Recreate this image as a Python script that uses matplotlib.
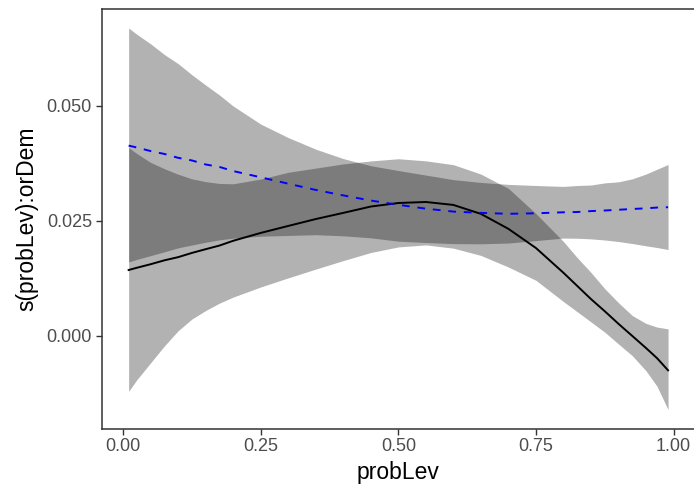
import numpy as np
import matplotlib
matplotlib.use("Agg")
import matplotlib.pyplot as plt

plt.rcParams["font.family"] = ["Liberation Sans", "DejaVu Sans"]

# probLev grid the smooths were read at (denser where the bands bend)
prob_lev = [0.01, 0.025, 0.05, 0.075, 0.10, 0.125, 0.15, 0.175, 0.20, 0.25,
            0.30, 0.35, 0.40, 0.45, 0.50, 0.55, 0.60, 0.65, 0.70, 0.75,
            0.80, 0.825, 0.85, 0.875, 0.90, 0.925, 0.95, 0.97, 0.99]

# solid black smooth and its band
fit_solid = [0.01431, 0.01480, 0.01557, 0.01642, 0.01711, 0.01803, 0.01884,
             0.01963, 0.02067, 0.02238, 0.02390, 0.02540, 0.02674, 0.02812,
             0.02889, 0.02911, 0.02847, 0.02652, 0.02326, 0.01909, 0.01370,
             0.01084, 0.00798, 0.00534, 0.00259, -0.00004, -0.00268, -0.00488,
             -0.00752]
upper_solid = [0.04094, 0.03964, 0.03771, 0.03635, 0.03514, 0.03415, 0.03353,
               0.03314, 0.03307, 0.03410, 0.03558, 0.03648, 0.03740, 0.03804,
               0.03852, 0.03806, 0.03723, 0.03518, 0.03206, 0.02658, 0.02050,
               0.01700, 0.01377, 0.01025, 0.00718, 0.00440, 0.00268, 0.00189,
               0.00150]
lower_solid = [-0.01209, -0.00955, -0.00587, -0.00220, 0.00110, 0.00365, 0.00550,
               0.00710, 0.00842, 0.01062, 0.01260, 0.01451, 0.01636, 0.01812,
               0.01933, 0.01977, 0.01906, 0.01748, 0.01495, 0.01207, 0.00743,
               0.00523, 0.00301, 0.00079, -0.00180, -0.00433, -0.00763, -0.01099,
               -0.01607]

# dashed blue smooth and its band
fit_dashed = [0.04138, 0.04096, 0.04019, 0.03956, 0.03872, 0.03815, 0.03727,
              0.03674, 0.03584, 0.03448, 0.03309, 0.03173, 0.03054, 0.02942,
              0.02850, 0.02766, 0.02702, 0.02674, 0.02654, 0.02665, 0.02687,
              0.02693, 0.02713, 0.02726, 0.02742, 0.02759, 0.02773, 0.02790,
              0.02797]
upper_dashed = [0.06697, 0.06559, 0.06352, 0.06119, 0.05921, 0.05679, 0.05455,
                0.05239, 0.04998, 0.04606, 0.04312, 0.04060, 0.03855, 0.03700,
                0.03595, 0.03496, 0.03397, 0.03336, 0.03294, 0.03270, 0.03250,
                0.03270, 0.03280, 0.03327, 0.03350, 0.03415, 0.03520, 0.03624,
                0.03727]
lower_dashed = [0.01607, 0.01662, 0.01744, 0.01827, 0.01913, 0.01975, 0.02035,
                0.02087, 0.02124, 0.02166, 0.02183, 0.02199, 0.02175, 0.02131,
                0.02058, 0.02029, 0.02005, 0.02001, 0.02018, 0.02071, 0.02126,
                0.02122, 0.02109, 0.02084, 0.02051, 0.02007, 0.01957, 0.01920,
                0.01876]

x_ticks = [0.00, 0.25, 0.50, 0.75, 1.00]
x_tick_labels = ["0.00", "0.25", "0.50", "0.75", "1.00"]
y_ticks = [0.000, 0.025, 0.050]
y_tick_labels = ["0.000", "0.025", "0.050"]

fig = plt.figure(figsize=(6.94, 4.87), dpi=100)
ax = fig.add_axes([0.1465, 0.1197, 0.855, 0.862])

x = np.array(prob_lev)
ax.fill_between(x, lower_dashed, upper_dashed, color="black", alpha=0.3, linewidth=0)
ax.fill_between(x, lower_solid, upper_solid, color="black", alpha=0.3, linewidth=0)
ax.plot(x, fit_solid, color="black", linewidth=1.4)
ax.plot(x, fit_dashed, color="blue", linewidth=1.4, dashes=(4, 4))

# ggplot-style 5% expansion
ymin = min(min(lower_solid), min(lower_dashed))
ymax = max(max(upper_solid), max(upper_dashed))
xpad = 0.05 * (x.max() - x.min())
ypad = 0.05 * (ymax - ymin)
ax.set_xlim(x.min() - xpad, x.max() + xpad)
ax.set_ylim(ymin - ypad, ymax + ypad)

ax.set_xticks(x_ticks)
ax.set_xticklabels(x_tick_labels)
ax.set_yticks(y_ticks)
ax.set_yticklabels(y_tick_labels)
ax.tick_params(length=4, width=1.0, color="#333333", labelcolor="#4D4D4D",
               labelsize=13, pad=3)

for side in ["left", "bottom", "top", "right"]:
    ax.spines[side].set_color("#333333")
    ax.spines[side].set_linewidth(1.1)

ax.set_xlabel("probLev", fontsize=16.5, color="black", labelpad=4)
ax.set_ylabel("s(probLev):orDem", fontsize=16.5, color="black", labelpad=6)

fig.savefig("out.png", dpi=100)
